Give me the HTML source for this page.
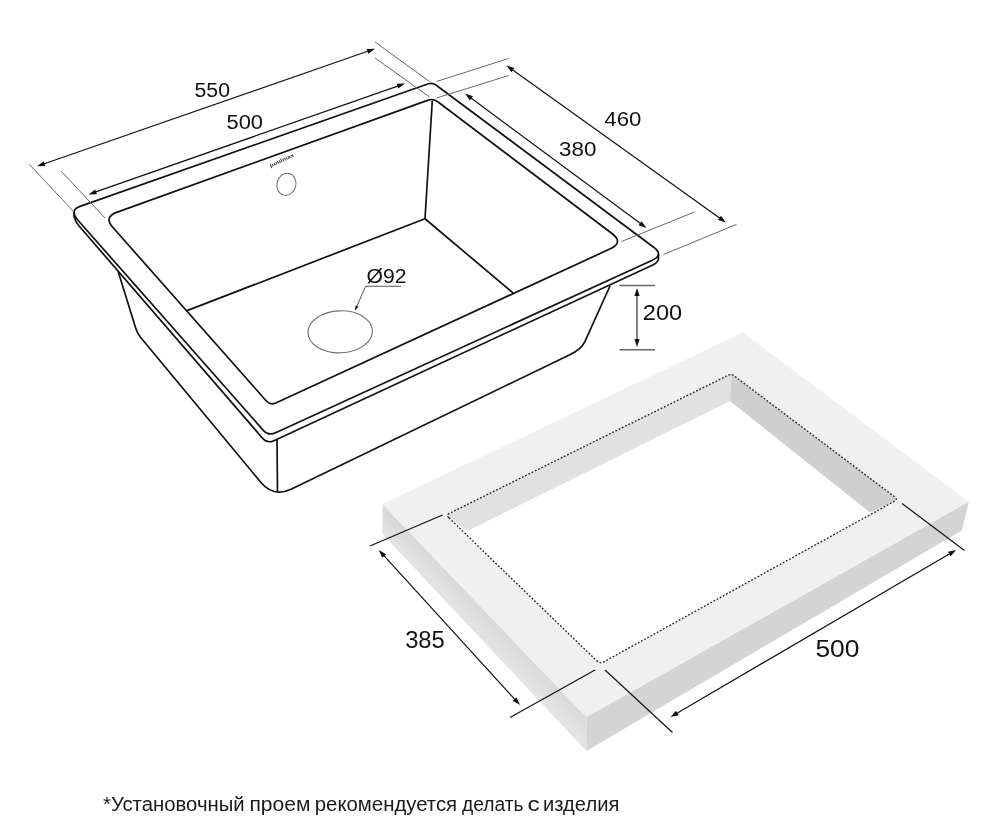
<!DOCTYPE html>
<html><head><meta charset="utf-8"><style>
html,body{margin:0;padding:0;background:#fff;width:1000px;height:840px;overflow:hidden}
svg{display:block;font-family:"Liberation Sans",sans-serif;will-change:transform}
text{stroke:none}
</style></head><body>
<svg width="1000" height="840" viewBox="0 0 1000 840">
<defs><linearGradient id="lf" gradientUnits="userSpaceOnUse" x1="484" y1="642.6" x2="500" y2="627"><stop offset="0" stop-color="#e4e4e4"/><stop offset="1" stop-color="#d9d9d9"/></linearGradient></defs>
<path d="M382.50,504.00L586.40,717.10L586.40,751.00L382.50,534.00Z" fill="url(#lf)"/>
<path d="M586.40,717.10L968.70,501.70L962.10,530.20L586.40,751.00Z" fill="#d4d4d4"/>
<path d="M382.50,504.00L742.50,332.50L968.70,501.70L586.40,717.10Z" fill="#f0f0f0"/>
<path d="M448.87,517.78Q446.00,515.00 449.58,513.22L728.56,375.08Q731.25,373.75 733.65,375.56L894.71,496.89Q897.90,499.30 894.40,501.24L604.38,661.58Q600.00,664.00 596.41,660.52Z" fill="#ffffff"/>
<path d="M446.00,515.00L731.25,373.75L730.00,401.00L467.50,531.00Z" fill="#e1e1e1"/>
<path d="M731.25,373.75L897.90,499.30L870.00,512.50L730.00,401.00Z" fill="#cfcfcf"/>
<path d="M448.87,517.78Q446.00,515.00 449.58,513.22L728.56,375.08Q731.25,373.75 733.65,375.56L894.71,496.89Q897.90,499.30 894.40,501.24L604.38,661.58Q600.00,664.00 596.41,660.52Z" fill="none" stroke="#222" stroke-width="1.35" stroke-dasharray="1.8 1.8"/>
<line x1="370.00" y1="546.00" x2="442.50" y2="515.00" stroke="#111" stroke-width="1.2"/>
<line x1="510.00" y1="717.50" x2="595.00" y2="670.00" stroke="#111" stroke-width="1.2"/>
<line x1="383.46" y1="555.17" x2="515.29" y2="699.83" stroke="#111" stroke-width="1.2"/><path d="M378.75,550.00L382.22,557.66L386.06,554.16Z" fill="#111"/><path d="M520.00,705.00L516.53,697.34L512.69,700.84Z" fill="#111"/>
<text x="405.15" y="647.96" font-size="23.66" textLength="39.67" lengthAdjust="spacingAndGlyphs" fill="#111" >385</text>
<line x1="605.00" y1="670.00" x2="672.50" y2="732.50" stroke="#111" stroke-width="1.2"/>
<line x1="902.00" y1="503.50" x2="964.50" y2="550.50" stroke="#111" stroke-width="1.2"/>
<line x1="676.54" y1="713.47" x2="950.16" y2="553.43" stroke="#111" stroke-width="1.2"/><path d="M670.50,717.00L678.72,715.21L676.09,710.72Z" fill="#111"/><path d="M956.20,549.90L947.98,551.69L950.61,556.18Z" fill="#111"/>
<text x="815.44" y="657.36" font-size="23.66" textLength="44.08" lengthAdjust="spacingAndGlyphs" fill="#111" >500</text>
<path d="M118.00,271.00L135.82,328.57Q137.30,333.35 140.49,337.20L260.73,482.20Q273.50,497.60 291.52,488.92L569.79,354.84Q581.50,349.20 584.99,341.45L610.00,286.00" fill="none" stroke="#111" stroke-width="1.7" stroke-linejoin="round"/>
<line x1="277" y1="439.3" x2="277.5" y2="492" stroke="#111" stroke-width="1.7"/>
<path d="M79.11,226.00Q69.95,215.40 80.80,211.59L428.85,89.14Q432.91,87.72 436.36,90.29L653.60,252.16Q663.87,259.80 652.25,265.19L273.92,440.66Q267.30,443.73 262.53,438.21Z" fill="none" stroke="#111" stroke-width="1.7"/>
<path d="M78.38,220.70Q69.12,210.20 79.97,206.38L428.40,83.80Q432.45,82.38 435.90,84.95L653.68,247.22Q663.95,254.86 652.31,260.20L275.64,432.75Q268.37,436.08 263.07,430.08Z" fill="#fff" stroke="#111" stroke-width="1.7"/>
<path d="M74.12,212.44L74.12,217.72" stroke="#111" stroke-width="1.7"/>
<path d="M658.50,253.88L658.50,258.83" stroke="#111" stroke-width="1.7"/>
<path d="M112.76,227.29Q103.65,216.99 116.59,212.33L428.20,100.15Q433.19,98.35 437.42,101.55L611.93,233.48Q623.90,242.53 610.28,248.81L275.79,403.00Q270.34,405.52 266.37,401.02Z" fill="none" stroke="#111" stroke-width="1.7"/>
<path d="M432.3,100.5L425,218.75L186.4,310.9M425,218.75L513.3,293.2" fill="none" stroke="#111" stroke-width="1.7" stroke-linejoin="round"/>
<ellipse cx="340.2" cy="331.8" rx="32.2" ry="21" transform="rotate(-2 340.2 331.8)" fill="none" stroke="#707070" stroke-width="1.15"/>
<ellipse cx="286.4" cy="184.3" rx="9.5" ry="11.1" transform="rotate(15 286.4 184.3)" fill="none" stroke="#777" stroke-width="1.1"/>
<text x="270.6" y="167.4" font-size="5.2" font-weight="bold" textLength="26.5" lengthAdjust="spacingAndGlyphs" fill="#333" transform="rotate(-25 270.6 167.4)">poulmax</text>
<text x="366.55" y="283.19" font-size="20.82" textLength="40.01" lengthAdjust="spacingAndGlyphs" fill="#111" >Ø92</text>
<path d="M401.25,286.25L365.6,286.25L356.5,307" fill="none" stroke="#555" stroke-width="1"/>
<path d="M355.00,310.60L358.46,306.65L355.53,305.38Z" fill="#111"/>
<line x1="29.50" y1="164.50" x2="73.00" y2="211.00" stroke="#666" stroke-width="1.0"/>
<line x1="375.00" y1="42.00" x2="429.50" y2="81.50" stroke="#666" stroke-width="1.0"/>
<line x1="43.61" y1="163.95" x2="368.39" y2="51.05" stroke="#111" stroke-width="1.2"/><path d="M37.00,166.25L45.41,166.08L43.70,161.17Z" fill="#111"/><path d="M375.00,48.75L366.59,48.92L368.30,53.83Z" fill="#111"/>
<text x="194.55" y="96.99" font-size="21.13" textLength="35.47" lengthAdjust="spacingAndGlyphs" fill="#111" >550</text>
<line x1="61.25" y1="171.25" x2="105.00" y2="218.00" stroke="#666" stroke-width="1.0"/>
<line x1="375.00" y1="58.00" x2="429.50" y2="97.00" stroke="#666" stroke-width="1.0"/>
<line x1="95.11" y1="192.18" x2="398.39" y2="85.82" stroke="#111" stroke-width="1.2"/><path d="M88.50,194.50L96.91,194.31L95.19,189.40Z" fill="#111"/><path d="M405.00,83.50L396.59,83.69L398.31,88.60Z" fill="#111"/>
<text x="226.52" y="129.19" font-size="20.85" textLength="36.52" lengthAdjust="spacingAndGlyphs" fill="#111" >500</text>
<line x1="436.50" y1="81.50" x2="508.50" y2="58.50" stroke="#666" stroke-width="1.0"/>
<line x1="663.50" y1="254.50" x2="736.50" y2="224.40" stroke="#666" stroke-width="1.0"/>
<line x1="512.09" y1="69.47" x2="720.31" y2="218.43" stroke="#111" stroke-width="1.2"/><path d="M506.40,65.40L511.39,72.17L514.42,67.94Z" fill="#111"/><path d="M726.00,222.50L721.01,215.73L717.98,219.96Z" fill="#111"/>
<text x="604.36" y="126.29" font-size="21.13" textLength="37.00" lengthAdjust="spacingAndGlyphs" fill="#111" >460</text>
<line x1="436.50" y1="98.00" x2="508.50" y2="75.60" stroke="#666" stroke-width="1.0"/>
<line x1="621.50" y1="241.50" x2="694.50" y2="212.00" stroke="#666" stroke-width="1.0"/>
<line x1="470.63" y1="97.77" x2="640.87" y2="223.83" stroke="#111" stroke-width="1.2"/><path d="M465.00,93.60L469.88,100.45L472.98,96.27Z" fill="#111"/><path d="M646.50,228.00L641.62,221.15L638.52,225.33Z" fill="#111"/>
<text x="559.11" y="155.80" font-size="20.42" textLength="37.25" lengthAdjust="spacingAndGlyphs" fill="#111" >380</text>
<line x1="619.50" y1="285.50" x2="655.00" y2="285.50" stroke="#666" stroke-width="1.4"/>
<line x1="619.50" y1="349.80" x2="655.00" y2="349.80" stroke="#666" stroke-width="1.4"/>
<line x1="637.00" y1="295.00" x2="637.00" y2="340.00" stroke="#333" stroke-width="1.2"/><path d="M637.00,288.00L634.40,296.00L639.60,296.00Z" fill="#111"/><path d="M637.00,347.00L639.60,339.00L634.40,339.00Z" fill="#111"/>
<text x="642.82" y="319.98" font-size="21.55" textLength="39.29" lengthAdjust="spacingAndGlyphs" fill="#111" >200</text>
<text x="102.99" y="811.30" font-size="19.40" textLength="141.70" lengthAdjust="spacingAndGlyphs" fill="#1a1a1a">*Установочный</text>
<text x="249.43" y="811.30" font-size="19.40" textLength="60.99" lengthAdjust="spacingAndGlyphs" fill="#1a1a1a">проем</text>
<text x="314.78" y="811.30" font-size="19.40" textLength="142.38" lengthAdjust="spacingAndGlyphs" fill="#1a1a1a">рекомендуется</text>
<text x="461.91" y="811.30" font-size="19.40" textLength="61.72" lengthAdjust="spacingAndGlyphs" fill="#1a1a1a">делать</text>
<text x="527.42" y="811.30" font-size="19.40" textLength="12.21" lengthAdjust="spacingAndGlyphs" fill="#1a1a1a">с</text>
<text x="543.09" y="811.30" font-size="19.40" textLength="76.22" lengthAdjust="spacingAndGlyphs" fill="#1a1a1a">изделия</text>
</svg>
</body></html>
